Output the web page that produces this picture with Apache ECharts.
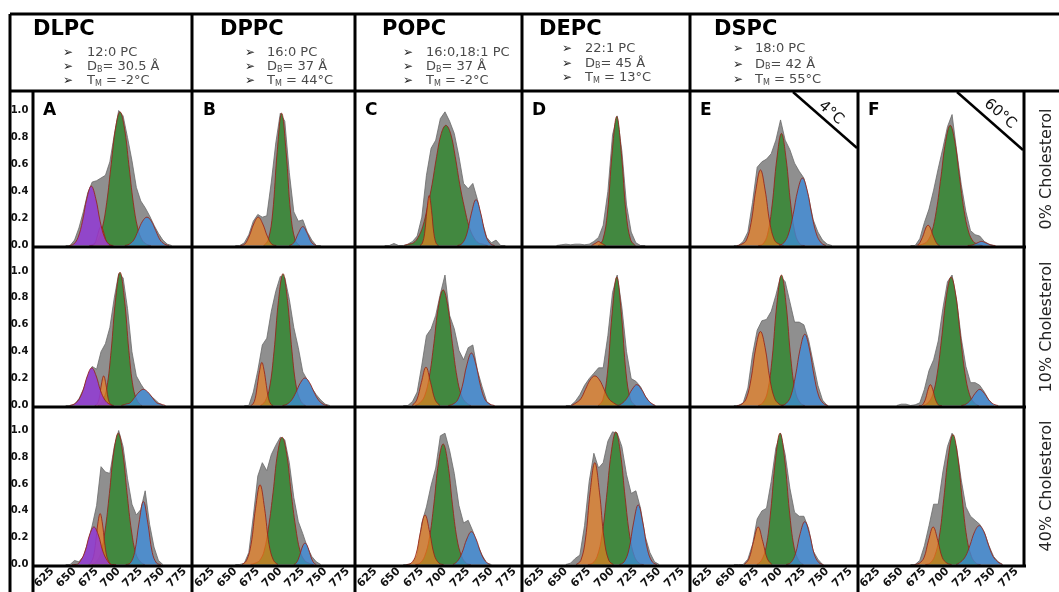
<!DOCTYPE html>
<html>
<head>
<meta charset="utf-8">
<script src="https://cdn.jsdelivr.net/npm/echarts@6/dist/echarts.min.js"></script>
<style>
  html, body { margin: 0; padding: 0; background: #fff; }
  #chart { width: 1059px; height: 592px; }
</style>
</head>
<body>
<div id="chart"></div>
<script>
// tick labels
const xTicks = [625, 650, 675, 700, 725, 750, 775];
const yTicks = [0, 0.2, 0.4, 0.6, 0.8, 1.0];

// header boxes
const lipids = ['DLPC', 'DPPC', 'POPC', 'DEPC', 'DSPC'];
const chains = ['12:0 PC', '16:0 PC', '16:0,18:1 PC', '22:1 PC', '18:0 PC'];
const thickness = ['30.5', '37', '37', '45', '42'];
const meltTemps = ['-2', '44', '-2', '13', '55'];

const panelLetters = ['A', 'B', 'C', 'D', 'E', 'F'];
const tempTags = ['', '', '', '', '4°C', '60°C'];
const rowLabels = ['0% Cholesterol', '10% Cholesterol', '40% Cholesterol'];

// panels row by row: 0-5 = 0% chol (A..F), 6-11 = 10%, 12-17 = 40%
// measured histogram: [first x, then one y every 5]
const grayHist = [
  [640, 0, 0, .04, .13, .25, .39, .47, .48, .50, .52, .62, .82, 1.0, .96, .80, .63, .43, .33, .28, .22, .15, .09, .04, .01, 0],
  [650, 0, 0, .02, .08, .18, .23, .21, .22, .47, .76, .98, .92, .54, .25, .18, .19, .10, .04, 0, 0],
  [635, 0, 0, .015, 0, 0, .01, .03, .07, .21, .52, .72, .78, .94, .99, .92, .83, .66, .46, .42, .46, .34, .18, .06, .02, .04, 0, 0],
  [640, 0, .005, .01, .005, .01, .01, .005, .01, .03, .06, .15, .40, .82, .96, .70, .30, .10, .02, 0, 0],
  [650, 0, 0, .03, .10, .32, .58, .62, .64, .68, .78, .93, .78, .71, .61, .55, .50, .36, .19, .10, .04, .01, 0],
  [660, 0, 0, .05, .17, .27, .41, .57, .72, .88, .97, .70, .45, .25, .11, .08, .07, .03, .01, 0],
  [640, 0, 0, .01, .05, .12, .22, .29, .27, .40, .46, .58, .80, .98, .95, .72, .40, .22, .16, .11, .08, .05, .02, 0],
  [660, 0, 0, .10, .26, .45, .50, .70, .85, .96, .95, .79, .58, .43, .25, .19, .13, .08, .04, .01, 0],
  [655, 0, 0, .03, .10, .30, .52, .57, .67, .83, .97, .67, .57, .41, .34, .43, .45, .26, .14, .03, 0],
  [650, 0, 0, .03, .08, .15, .20, .24, .28, .28, .52, .84, .97, .73, .40, .20, .18, .14, .07, .02, 0],
  [650, 0, 0, .02, .13, .38, .56, .63, .64, .70, .82, .96, .92, .77, .62, .62, .60, .49, .32, .15, .04, 0],
  [645, 0, .01, .01, 0, .005, .02, .12, .26, .34, .48, .72, .92, .97, .78, .50, .29, .17, .17, .15, .10, .04, 0],
  [640, 0, 0, .03, .02, .06, .16, .29, .44, .73, .69, .68, .88, 1.0, .88, .64, .45, .37, .41, .55, .30, .13, .03, 0],
  [650, 0, 0, .01, .09, .36, .66, .76, .70, .82, .89, .95, .93, .76, .50, .32, .23, .13, .06, .02, 0],
  [655, 0, 0, .01, .07, .31, .43, .59, .72, .96, .98, .85, .68, .44, .31, .33, .25, .15, .07, .01, 0],
  [650, 0, .01, .045, .07, .29, .62, .83, .72, .76, .92, .99, .98, .88, .67, .53, .55, .42, .21, .09, .02, 0],
  [650, 0, 0, 0, .04, .15, .34, .40, .42, .62, .87, .98, .82, .57, .39, .36, .36, .27, .10, .04, 0],
  [660, 0, 0, .03, .14, .29, .45, .45, .69, .88, .98, .87, .63, .43, .36, .33, .30, .24, .14, .06, .02, 0]
];

// fitted components: [first x, x step, y values], null where absent
const purpleFit = [
  [644, 5, [0, .01, .06, .18, .35, .44, .35, .18, .06, .01, 0]], null, null, null, null, null,
  [644.5, 5, [0, .01, .04, .11, .22, .28, .22, .11, .04, .01, 0]], null, null, null, null, null,
  [647, 5, [0, 0, .03, .10, .22, .28, .22, .10, .03, 0, 0]], null, null, null, null, null
];
const orangeFit = [
  [667.5, 2.5, [0, 0, .01, .05, .11, .14, .11, .05, .01, 0, 0]],
  [655.5, 5, [0, .01, .07, .16, .21, .16, .07, .01, 0]],
  [673, 2.5, [0, .016, .09, .26, .37, .26, .09, .016, 0]],
  [677.5, 2.5, [0, .01, .02, .03, .02, .01, 0]],
  [653.5, 5, [0, .01, .04, .17, .41, .56, .41, .17, .04, .01, 0]],
  [666.5, 2.5, [0, .01, .04, .08, .13, .15, .13, .08, .04, .01, 0]],
  [673, 2.5, [0, .01, .055, .16, .22, .16, .055, .01, 0]],
  [667, 2.5, [0, .01, .05, .15, .26, .32, .26, .15, .05, .01, 0]],
  [664.5, 5, [0, .04, .17, .285, .17, .04, 0]],
  [656, 5, [0, .02, .05, .12, .19, .22, .19, .12, .05, .02, 0]],
  [653.5, 5, [0, .01, .055, .20, .43, .55, .43, .20, .055, .01, 0]],
  [669, 2.5, [0, 0, .015, .055, .12, .155, .12, .055, .015, 0, 0]],
  [666.5, 2.5, [0, .02, .06, .17, .31, .38, .31, .17, .06, .02, 0]],
  [657.5, 5, [0, .03, .15, .42, .595, .42, .15, .03, 0]],
  [658.5, 5, [0, .01, .07, .24, .37, .24, .07, .01, 0]],
  [661, 5, [0, .03, .19, .54, .76, .54, .19, .03, 0]],
  [661, 5, [0, .04, .17, .28, .17, .04, 0]],
  [664.5, 5, [0, .01, .05, .18, .28, .18, .05, .01, 0]]
];
const greenFit = [
  [666.5, 5, [0, .01, .04, .13, .32, .60, .87, .99, .87, .60, .32, .13, .04, .01, 0]],
  [681.5, 5, [0, .04, .24, .69, .98, .69, .24, .04, 0]],
  [656, 5, [0, .01, .02, .06, .14, .28, .45, .66, .83, .89, .83, .66, .45, .28, .14, .06, .02, .01, 0]],
  [684.5, 5, [0, .04, .24, .68, .955, .68, .24, .04, 0]],
  [676, 5, [0, .01, .08, .30, .64, .83, .64, .30, .08, .01, 0]],
  [668, 5, [0, .01, .03, .10, .26, .51, .77, .89, .77, .51, .26, .10, .03, .01, 0]],
  [676.5, 5, [0, .03, .13, .41, .79, .99, .79, .41, .13, .03, 0]],
  [678, 5, [0, .03, .13, .40, .78, .98, .78, .40, .13, .03, 0]],
  [668, 5, [0, .02, .07, .21, .46, .74, .86, .74, .46, .21, .07, .02, 0]],
  [684.5, 5, [0, .04, .24, .68, .955, .68, .24, .04, 0]],
  [676, 5, [0, .02, .10, .35, .75, .97, .75, .35, .10, .02, 0]],
  [674, 5, [0, .02, .08, .24, .52, .82, .955, .82, .52, .24, .08, .02, 0]],
  [669.5, 5, [0, .02, .08, .25, .53, .84, .98, .84, .53, .25, .08, .02, 0]],
  [667, 5, [0, .01, .03, .10, .28, .54, .83, .95, .83, .54, .28, .10, .03, .01, 0]],
  [668, 5, [0, .01, .06, .19, .45, .76, .90, .76, .45, .19, .06, .01, 0]],
  [673.5, 5, [0, .01, .06, .21, .50, .83, .99, .83, .50, .21, .06, .01, 0]],
  [674.5, 5, [0, .03, .13, .40, .78, .98, .78, .40, .13, .03, 0]],
  [676, 5, [0, .01, .06, .20, .49, .81, .97, .81, .49, .20, .06, .01, 0]]
];
const blueFit = [
  [707, 5, [0, .01, .04, .11, .18, .21, .18, .11, .04, .01, 0]],
  [710, 5, [0, .02, .09, .14, .09, .02, 0]],
  [713.5, 5, [0, .015, .085, .24, .34, .24, .085, .015, 0]],
  null,
  [698.5, 5, [0, .02, .085, .23, .41, .50, .41, .23, .085, .02, 0]],
  [722, 5, [0, .004, .018, .03, .018, .004, 0]],
  [703, 5, [0, .01, .02, .06, .10, .12, .10, .06, .02, .01, 0]],
  [702.5, 5, [0, .01, .04, .10, .17, .205, .17, .10, .04, .01, 0]],
  [703.5, 5, [0, .01, .04, .14, .30, .39, .30, .14, .04, .01, 0]],
  [706, 5, [0, .02, .06, .12, .155, .12, .06, .02, 0]],
  [701, 5, [0, .015, .07, .22, .42, .53, .42, .22, .07, .015, 0]],
  [715, 5, [0, .01, .04, .09, .12, .09, .04, .01, 0]],
  [708, 5, [0, .01, .09, .31, .47, .31, .09, .01, 0]],
  [715, 2.5, [0, .01, .04, .09, .14, .16, .14, .09, .04, .01, 0]],
  [708.5, 5, [0, .025, .09, .19, .245, .19, .09, .025, 0]],
  [707.5, 5, [0, .02, .11, .31, .445, .31, .11, .02, 0]],
  [706, 5, [0, .014, .08, .23, .32, .23, .08, .014, 0]],
  [709.5, 5, [0, .02, .06, .145, .245, .29, .245, .145, .06, .02, 0]]
];

// layout (pixels)
const colLeft = [33, 193, 355, 522, 690, 858];
const colWidth = [159, 162, 167, 168, 168, 166];
const rowZero = [245.5, 405.5, 564.5];
const rowScale = [135, 134.5, 134];
const X_LO = 603, X_HI = 783; // x range shown inside each panel border
const FONT = '"DejaVu Sans", Verdana, sans-serif';

const fitLine = { color: 'rgba(150,35,25,0.85)', width: 1 };
const fitColors = {
  green: 'rgba(60,136,58,0.93)',
  orange: 'rgba(242,128,28,0.66)',
  purple: 'rgba(146,58,212,0.86)',
  blue: 'rgba(58,140,222,0.74)'
};

function toPts(x0, step, ys) {
  return ys.map((y, i) => [x0 + i * step, y]);
}

const grids = [], xAxes = [], yAxes = [], series = [];
for (let r = 0; r < 3; r++) {
  for (let c = 0; c < 6; c++) {
    const p = r * 6 + c;
    const pxPerUnit = colWidth[c] / (X_HI - X_LO);
    grids.push({
      left: colLeft[c] - (X_LO - 600) * pxPerUnit,
      width: 185 * pxPerUnit,
      top: rowZero[r] - 1.15 * rowScale[r],
      height: 1.15 * rowScale[r]
    });
    xAxes.push({
      gridIndex: p, type: 'value', min: 600, max: 785, interval: 25,
      axisLine: { show: false }, axisTick: { show: false }, splitLine: { show: false },
      axisLabel: {
        show: r === 2, rotate: 45, margin: 5,
        fontFamily: FONT, fontWeight: 'bold', fontSize: 11, color: '#111',
        formatter: v => xTicks.includes(v) ? String(v) : ''
      }
    });
    yAxes.push({
      gridIndex: p, type: 'value', min: 0, max: 1.15, interval: 0.2,
      axisLine: { show: false }, axisTick: { show: false }, splitLine: { show: false },
      axisLabel: {
        show: c === 0, margin: 2,
        fontFamily: FONT, fontWeight: 'bold', fontSize: 10, color: '#111',
        formatter: v => yTicks.some(t => Math.abs(t - v) < 1e-6) ? v.toFixed(1) : ''
      }
    });

    const g = grayHist[p];
    series.push({
      type: 'line', xAxisIndex: p, yAxisIndex: p, silent: true,
      data: toPts(g[0], 5, g.slice(1)),
      symbol: 'none',
      lineStyle: { color: '#6a6a6a', width: 0.8 },
      areaStyle: { color: '#8f8f8f', opacity: 1 },
      z: 2
    });
    [['green', greenFit], ['orange', orangeFit], ['purple', purpleFit], ['blue', blueFit]].forEach(([name, list], k) => {
      const f = list[p];
      if (!f) return;
      series.push({
        type: 'line', xAxisIndex: p, yAxisIndex: p, silent: true,
        data: toPts(f[0], f[1], f[2]),
        smooth: 0.4, symbol: 'none',
        lineStyle: fitLine,
        areaStyle: { color: fitColors[name], opacity: 1 },
        z: 3 + k
      });
    });
  }
}

// frame lines and text
const graphics = [];
function line(x1, y1, x2, y2, w) {
  graphics.push({ type: 'line', z: 100, silent: true,
    shape: { x1, y1, x2, y2 }, style: { stroke: '#000', lineWidth: w || 3 } });
}
function text(x, y, str, opts) {
  graphics.push({ type: 'text', z: 101, silent: true, x, y, rotation: opts.rotation || 0,
    style: Object.assign({
      text: str, fontFamily: FONT, fill: '#111',
      align: 'left', verticalAlign: 'middle', textAlign: 'left', textVerticalAlign: 'middle'
    }, opts.style) });
}

line(10, 14, 1059, 14);
line(10, 91, 1059, 91);
[247, 407, 566].forEach(y => line(33, y, 1026, y));
line(10, 14, 10, 592);
line(33, 91, 33, 592);
[192, 355, 522, 690].forEach(x => line(x, 14, x, 592));
line(858, 91, 858, 592);
line(1024, 91, 1024, 566);

// header boxes
const nameX = [33, 220, 382, 539, 714];
const arrowX = [63, 245, 403, 562, 733];
const infoX = [87, 267, 426, 585, 755];
const infoY = [53, 53, 53, 49, 49];
const infoGap = [14, 14, 14, 14.5, 15.5];
lipids.forEach((name, i) => {
  text(nameX[i], 30, name, { style: { fontSize: 21, fontWeight: 'bold', fill: '#000' } });
  const rows = [chains[i], 'D{s|B}= ' + thickness[i] + ' Å', 'T{s|M} = ' + meltTemps[i] + '°C'];
  rows.forEach((t, j) => {
    const y = infoY[i] + j * infoGap[i];
    text(arrowX[i], y, '➢', { style: { fontSize: 12, fill: '#222' } });
    text(infoX[i], y, t, { style: { fontSize: 13, fill: '#4a4a4a',
      rich: { s: { fontSize: 8, fontFamily: FONT, fill: '#4a4a4a', verticalAlign: 'bottom', lineHeight: 9 } } } });
  });
});

// panel letters
panelLetters.forEach((L, c) => {
  text(colLeft[c] + 10, 111, L, { style: { fontSize: 17, fontWeight: 'bold', fill: '#000' } });
});

// temperature corners on the DSPC panels
line(793, 92, 857, 148, 2.5);
line(957, 92, 1023, 150, 2.5);
text(831, 113, tempTags[4], { rotation: -0.72, style: { fontSize: 15, align: 'center', textAlign: 'center' } });
text(1000, 114, tempTags[5], { rotation: -0.72, style: { fontSize: 15, align: 'center', textAlign: 'center' } });

// cholesterol row labels
const rowMid = [169, 327, 486];
rowLabels.forEach((t, r) => {
  text(1047, rowMid[r], t, { rotation: Math.PI / 2,
    style: { fontSize: 16, fill: '#222', align: 'center', textAlign: 'center' } });
});

const chart = echarts.init(document.getElementById('chart'), null, { renderer: 'canvas' });
chart.setOption({
  animation: false,
  backgroundColor: '#fff',
  grid: grids,
  xAxis: xAxes,
  yAxis: yAxes,
  series: series,
  graphic: { elements: graphics }
});
</script>
</body>
</html>
